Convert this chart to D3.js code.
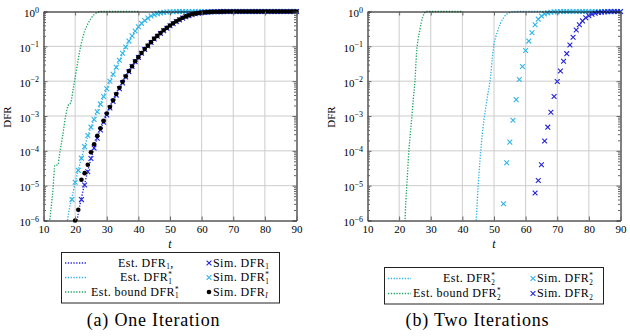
<!DOCTYPE html>
<html>
<head>
<meta charset="utf-8">
<script src="https://cdn.jsdelivr.net/npm/d3@7"></script>
<style>
  body { margin: 0; background: #fff; }
  svg text { font-family: "Liberation Serif", "DejaVu Serif", serif !important; }
</style>
</head>
<body>
<svg id="chart" width="630" height="336"></svg>
<script>
// ---- axes ----
const tTicks = [10, 20, 30, 40, 50, 60, 70, 80, 90];
const decadeExps = [0, -1, -2, -3, -4, -5, -6];
const tSteps = [10, 11, 12, 13, 14, 15, 16, 17, 18, 19, 20, 21, 22, 23, 24, 25, 26, 27, 28, 29,
  30, 31, 32, 33, 34, 35, 36, 37, 38, 39, 40, 41, 42, 43, 44, 45, 46, 47, 48, 49,
  50, 51, 52, 53, 54, 55, 56, 57, 58, 59, 60, 61, 62, 63, 64, 65, 66, 67, 68, 69,
  70, 71, 72, 73, 74, 75, 76, 77, 78, 79, 80, 81, 82, 83, 84, 85, 86, 87, 88, 89, 90];

// ---- (a) one iteration, values are log10(DFR) ----
const estDfr1T = [20, 21, 22, 23, 24, 25, 26, 27, 28, 29, 30, 31, 32, 33, 34, 35, 36, 37, 38, 39, 40,
  41, 42, 43, 44, 45, 46, 47, 48, 49, 50, 51, 52, 53, 54, 55, 56, 57, 58, 59, 60, 62, 64, 66, 68, 70, 90];
const estDfr1 = [-6.4, -5.8, -5.35, -4.95, -4.58, -4.23, -3.92, -3.64, -3.39, -3.17, -2.96,
  -2.76, -2.57, -2.39, -2.21, -2.04, -1.88, -1.73, -1.58, -1.44, -1.32,
  -1.20, -1.09, -0.99, -0.89, -0.79, -0.71, -0.63, -0.55, -0.48, -0.41,
  -0.35, -0.29, -0.24, -0.19, -0.15, -0.12, -0.09, -0.066, -0.048, -0.035,
  -0.018, -0.009, -0.004, -0.002, -0.001, 0];

const estDfr1StarT = [17, 18, 19, 20, 21, 22, 23, 24, 25, 26, 27, 28, 29, 30, 31, 32, 33, 34, 35, 36,
  37, 38, 39, 40, 41, 42, 43, 44, 45, 46, 47, 48, 49, 50, 52, 55, 90];
const estDfr1Star = [-6.4, -5.75, -5.35, -4.92, -4.55, -4.21, -3.88, -3.58, -3.32, -3.09,
  -2.87, -2.65, -2.43, -2.22, -2.01, -1.81, -1.61, -1.41, -1.21, -1.03,
  -0.86, -0.71, -0.57, -0.45, -0.35, -0.27, -0.20, -0.14, -0.095, -0.063,
  -0.04, -0.025, -0.015, -0.009, -0.003, -0.001, 0];

const boundDfr1StarT = [11.7, 12, 13, 13.6, 14.6, 15, 16, 17, 17.8, 18.6, 19.4, 20.3, 21, 22, 23, 24, 25, 26, 27, 28, 40];
const boundDfr1Star = [-6.3, -6.0, -5.1, -4.42, -4.40, -4.15, -3.6, -3.0, -2.70, -2.62, -2.22, -1.74,
  -1.36, -0.9, -0.57, -0.36, -0.2, -0.09, -0.03, 0, 0];

const simDfr1Start = 22;
const simDfr1 = [-5.40, -4.98, -4.60, -4.22, -3.92, -3.64, -3.40, -3.18, -2.97, -2.77,
  -2.58, -2.40, -2.22, -2.05, -1.88, -1.73, -1.58, -1.44, -1.32, -1.20,
  -1.09, -0.99, -0.89, -0.79, -0.71, -0.63, -0.55, -0.48, -0.41, -0.35,
  -0.29, -0.24, -0.19, -0.15, -0.12, -0.09, -0.065, -0.048, -0.035, -0.025,
  -0.018, -0.013, -0.009, -0.006, -0.004, -0.003, -0.002, -0.001, -0.001, -0.001,
  0, 0, 0, 0, 0, 0, 0, 0, 0, 0, 0, 0, 0, 0, 0, 0, 0, 0, 0];

const simDfr1StarStart = 19;
const simDfr1Star = [-5.40, -4.90, -4.56, -4.21, -3.88, -3.56, -3.32, -3.10, -2.88, -2.66,
  -2.44, -2.22, -2.00, -1.80, -1.60, -1.40, -1.20, -1.02, -0.85, -0.70,
  -0.56, -0.44, -0.34, -0.26, -0.19, -0.13, -0.09, -0.06, -0.04, -0.025,
  -0.015, -0.008, -0.005, -0.003, -0.002, -0.001, 0, 0, 0, 0,
  0, 0, 0, 0, 0, 0, 0, 0, 0, 0, 0, 0, 0, 0, 0, 0, 0, 0, 0, 0, 0, 0, 0, 0, 0, 0, 0, 0, 0, 0, 0, 0];

const simDfrIStart = 20;
const simDfrI = [-6.0, -5.69, -4.83, -4.64, -4.40, -4.04, -3.81, -3.57, -3.35, -3.14,
  -2.93, -2.74, -2.55, -2.37, -2.19, -2.02, -1.86, -1.71, -1.57, -1.43,
  -1.31, -1.19, -1.08, -0.98, -0.88, -0.78, -0.70, -0.62, -0.54, -0.47,
  -0.40, -0.34, -0.28, -0.23, -0.18, -0.14, -0.11, -0.08, -0.06, -0.045,
  -0.033, -0.024, -0.017, -0.012, -0.008, -0.006, -0.004, -0.003, -0.002, -0.001,
  0, 0, 0, 0, 0, 0, 0, 0, 0, 0, 0, 0, 0, 0, 0, 0, 0, 0, 0, 0, 0];

// ---- (b) two iterations ----
const estDfr2StarT = [44.4, 45, 45.5, 46, 46.5, 47, 47.5, 48, 48.5, 49, 49.5, 50, 50.5, 51, 52, 53, 54, 55, 56, 57, 90];
const estDfr2Star = [-6.0, -5.0, -4.35, -3.8, -3.35, -3.0, -2.7, -2.4, -2.15, -1.8, -1.3, -0.95,
  -0.75, -0.6, -0.35, -0.18, -0.08, -0.03, -0.01, 0, 0];

const boundDfr2StarT = [21.8, 22, 22.5, 23, 23.5, 24, 24.5, 25, 25.5, 26, 26.5, 27, 27.5, 28, 28.5, 40];
const boundDfr2Star = [-6.2, -5.7, -4.9, -4.1, -3.55, -3.05, -2.5, -2.0, -1.2, -0.8, -0.55, -0.32, -0.15, -0.05, 0, 0];

const simDfr2StarStart = 53;
const simDfr2Star = [-5.52, -4.34, -3.75, -3.12, -2.53, -1.95, -1.58, -1.12, -0.85, -0.61,
  -0.38, -0.22, -0.13, -0.07, -0.04, -0.02, -0.01, -0.005, -0.002, -0.001,
  0, 0, 0, 0, 0, 0, 0, 0, 0, 0, 0, 0, 0, 0, 0, 0, 0, 0];

const simDfr2Start = 63;
const simDfr2 = [-5.21, -4.85, -4.40, -3.72, -3.32, -2.89, -2.44, -2.01, -1.71, -1.43,
  -1.21, -0.96, -0.74, -0.53, -0.38, -0.27, -0.18, -0.12, -0.08, -0.05,
  -0.03, -0.02, -0.01, -0.005, -0.002, -0.001, 0, 0];

const colBlue = "#2424d8";
const colCyan = "#2fb5e8";
const colGreen = "#1da765";
const serif = '"Liberation Serif", "DejaVu Serif", serif';

const svg = d3.select("#chart");

function linePts(ts, logs) {
  return ts.map((t, i) => [t, Math.pow(10, logs[i])]);
}
function simPts(start, logs) {
  const i0 = tSteps.indexOf(start);
  return logs.map((v, i) => [tSteps[i0 + i], Math.pow(10, v)]);
}

// base text + optional stacked sup/sub + tail
function richText(text, spec, fs) {
  const small = fs * 0.6;
  text.append("tspan").text(spec.base);
  if (spec.sup) {
    const sp = text.append("tspan").attr("dy", -fs * 0.33).attr("font-size", small).text(spec.sup);
    if (spec.sub) {
      const w = sp.node().getComputedTextLength();
      text.append("tspan").attr("dx", -w).attr("dy", fs * 0.56).attr("font-size", small)
        .attr("font-style", spec.subIt ? "italic" : null).text(spec.sub);
      if (spec.tail) text.append("tspan").attr("dy", -fs * 0.23).text(spec.tail);
    } else if (spec.tail) {
      text.append("tspan").attr("dy", fs * 0.33).text(spec.tail);
    }
  } else if (spec.sub) {
    text.append("tspan").attr("dy", fs * 0.23).attr("font-size", small)
      .attr("font-style", spec.subIt ? "italic" : null).text(spec.sub);
    if (spec.tail) text.append("tspan").attr("dy", -fs * 0.23).text(spec.tail);
  }
}

function drawMarker(g, kind, color, cx, cy) {
  if (kind === "x") {
    const s = 2.4;
    g.append("path")
      .attr("d", `M${cx - s},${cy - s}L${cx + s},${cy + s}M${cx - s},${cy + s}L${cx + s},${cy - s}`)
      .attr("stroke", color).attr("stroke-width", 1.1).attr("fill", "none");
  } else {
    g.append("circle").attr("cx", cx).attr("cy", cy).attr("r", 2.3).attr("fill", color);
  }
}

function panel(cfg) {
  const x = d3.scaleLinear().domain([10, 90]).range([cfg.left, cfg.right]);
  const y = d3.scaleLog().domain([1e-6, 1]).range([220.5, 11.5]);
  const g = svg.append("g");

  // grid
  g.append("g").selectAll("line").data(tTicks.slice(1, -1)).join("line")
    .attr("x1", d => x(d)).attr("x2", d => x(d))
    .attr("y1", y(1)).attr("y2", y(1e-6))
    .attr("stroke", "#cccccc").attr("stroke-width", 1);
  g.append("g").selectAll("line").data(decadeExps.slice(1, -1)).join("line")
    .attr("x1", cfg.left).attr("x2", cfg.right)
    .attr("y1", d => y(Math.pow(10, d))).attr("y2", d => y(Math.pow(10, d)))
    .attr("stroke", "#cccccc").attr("stroke-width", 1);

  const clipId = "clip" + cfg.id;
  g.append("clipPath").attr("id", clipId).append("rect")
    .attr("x", cfg.left).attr("y", y(1) - 2)
    .attr("width", cfg.right - cfg.left).attr("height", y(1e-6) - y(1) + 2);

  const line = d3.line().x(d => x(d[0])).y(d => y(d[1])).curve(d3.curveMonotoneX);
  cfg.lines.forEach(s => {
    g.append("path").datum(s.pts)
      .attr("clip-path", `url(#${clipId})`)
      .attr("d", line)
      .attr("fill", "none").attr("stroke", s.color)
      .attr("stroke-width", 1.35).attr("stroke-dasharray", "1.3,1.5");
  });

  cfg.sims.forEach(s => {
    const mg = g.append("g");
    s.pts.filter(p => p[1] >= 1e-6 * 0.99).forEach(p => drawMarker(mg, s.kind, s.color, x(p[0]), y(p[1])));
  });

  // minor ticks
  const minor = [];
  decadeExps.slice(1).forEach(e => {
    [2, 3, 4, 5, 6, 7, 8, 9].forEach(k => minor.push(k * Math.pow(10, e)));
  });

  const axL = g.append("g").attr("transform", `translate(${cfg.left},0)`)
    .call(d3.axisLeft(y).tickValues(decadeExps.map(e => Math.pow(10, e)))
      .tickSize(-4).tickSizeOuter(0).tickPadding(4.5).tickFormat(""));
  g.append("g").attr("transform", `translate(${cfg.left},0)`)
    .call(d3.axisLeft(y).tickValues(minor).tickSize(-2.5).tickSizeOuter(0).tickFormat(""))
    .call(a => a.select(".domain").remove());
  g.append("g").attr("transform", `translate(${cfg.right},0)`)
    .call(d3.axisRight(y).tickValues(decadeExps.map(e => Math.pow(10, e)))
      .tickSize(-4).tickSizeOuter(0).tickFormat(""));
  g.append("g").attr("transform", `translate(${cfg.right},0)`)
    .call(d3.axisRight(y).tickValues(minor).tickSize(-2.5).tickSizeOuter(0).tickFormat(""))
    .call(a => a.select(".domain").remove());
  g.append("g").attr("transform", `translate(0,${y(1e-6)})`)
    .call(d3.axisBottom(x).tickValues(tTicks).tickSize(-4).tickSizeOuter(0).tickPadding(4.5))
    .call(a => a.selectAll("text").attr("font-size", 11).attr("fill", "#000"));
  g.append("g").attr("transform", `translate(0,${y(1)})`)
    .call(d3.axisTop(x).tickValues(tTicks).tickSize(-4).tickSizeOuter(0).tickFormat(""));

  g.selectAll(".tick line").attr("stroke", "#666");
  g.selectAll(".domain").attr("stroke", "#000").attr("stroke-width", 1);
  g.selectAll("g").attr("font-family", serif);

  // log labels 10^e
  axL.selectAll(".tick text").each(function(v) {
    const t = d3.select(this).attr("dy", "0.46em").attr("font-size", 11).attr("fill", "#000");
    const e = Math.round(Math.log10(v));
    t.append("tspan").text("10");
    t.append("tspan").attr("dy", -4.5).attr("font-size", 8).text(e === 0 ? "0" : "\u2212" + (-e));
  });

  // axis titles
  g.append("text").attr("x", (cfg.left + cfg.right) / 2).attr("y", 248)
    .attr("text-anchor", "middle").attr("font-size", 12).attr("font-style", "italic").text("t");
  g.append("text").attr("transform", `translate(${cfg.left - 33},117) rotate(-90)`)
    .attr("text-anchor", "middle").attr("font-size", 11).text("DFR");

  // legend
  const lg = g.append("g");
  const L = cfg.legend;
  const fs = 12;
  lg.append("rect").attr("x", L.x).attr("y", L.y).attr("width", L.w).attr("height", L.h)
    .attr("fill", "#fff").attr("stroke", "#222").attr("stroke-width", 1);
  L.rows.forEach((row, i) => {
    const cy = L.rowY[i];
    if (row.line) {
      lg.append("line").attr("x1", L.lineX[0]).attr("x2", L.lineX[1]).attr("y1", cy).attr("y2", cy)
        .attr("stroke", row.line.color).attr("stroke-width", 1.35).attr("stroke-dasharray", "1.3,1.5");
      const t = lg.append("text").attr("x", row.line.tx).attr("y", cy + 3.5)
        .attr("font-size", fs).attr("letter-spacing", 0.45);
      richText(t, row.line.label, fs);
    }
    if (row.sim) {
      drawMarker(lg, row.sim.kind, row.sim.color, L.markX, cy);
      const t = lg.append("text").attr("x", L.markX + 4).attr("y", cy + 3.5)
        .attr("font-size", fs).attr("letter-spacing", 0.45);
      richText(t, row.sim.label, fs);
    }
  });

  g.append("text").attr("x", cfg.captionX).attr("y", 326).attr("text-anchor", "middle")
    .attr("font-size", 18).attr("letter-spacing", 0.8).text(cfg.caption);
}

panel({
  id: "a", left: 43.5, right: 296.5,
  lines: [
    { pts: linePts(boundDfr1StarT, boundDfr1Star), color: colGreen },
    { pts: linePts(estDfr1StarT, estDfr1Star), color: colCyan },
    { pts: linePts(estDfr1T, estDfr1), color: colBlue }
  ],
  sims: [
    { pts: simPts(simDfr1StarStart, simDfr1Star), kind: "x", color: colCyan },
    { pts: simPts(simDfr1Start, simDfr1), kind: "x", color: colBlue },
    { pts: simPts(simDfrIStart, simDfrI), kind: "dot", color: "#000" }
  ],
  legend: {
    x: 61.5, y: 252.5, w: 218, h: 50.5, rowY: [263, 277.5, 292], lineX: [65, 87], markX: 209,
    rows: [
      { line: { color: colBlue, tx: 118, label: { base: "Est. DFR", sub: "1", tail: "," } },
        sim: { kind: "x", color: colBlue, label: { base: "Sim. DFR", sub: "1" } } },
      { line: { color: colCyan, tx: 120, label: { base: "Est. DFR", sup: "*", sub: "1" } },
        sim: { kind: "x", color: colCyan, label: { base: "Sim. DFR", sup: "*", sub: "1" } } },
      { line: { color: colGreen, tx: 91, label: { base: "Est. bound DFR", sup: "*", sub: "1" } },
        sim: { kind: "dot", color: "#000", label: { base: "Sim. DFR", sub: "I", subIt: true } } }
    ]
  },
  caption: "(a) One Iteration", captionX: 153.5
});

panel({
  id: "b", left: 367.5, right: 620.5,
  lines: [
    { pts: linePts(boundDfr2StarT, boundDfr2Star), color: colGreen },
    { pts: linePts(estDfr2StarT, estDfr2Star), color: colCyan }
  ],
  sims: [
    { pts: simPts(simDfr2StarStart, simDfr2Star), kind: "x", color: colCyan },
    { pts: simPts(simDfr2Start, simDfr2), kind: "x", color: colBlue }
  ],
  legend: {
    x: 384.5, y: 267.5, w: 219, h: 36.5, rowY: [278.5, 293.5], lineX: [388, 411], markX: 533,
    rows: [
      { line: { color: colCyan, tx: 443, label: { base: "Est. DFR", sup: "*", sub: "2" } },
        sim: { kind: "x", color: colCyan, label: { base: "Sim. DFR", sup: "*", sub: "2" } } },
      { line: { color: colGreen, tx: 413, label: { base: "Est. bound DFR", sup: "*", sub: "2" } },
        sim: { kind: "x", color: colBlue, label: { base: "Sim. DFR", sub: "2" } } }
    ]
  },
  caption: "(b) Two Iterations", captionX: 477.5
});
</script>
</body>
</html>
